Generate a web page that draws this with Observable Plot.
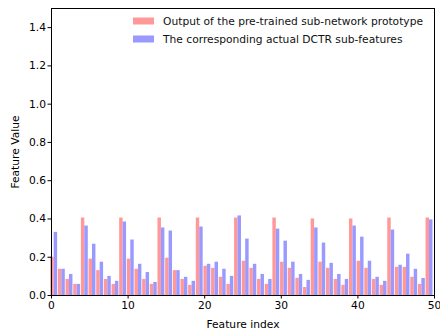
<!DOCTYPE html>
<html><head><meta charset="utf-8">
<script src="https://cdn.jsdelivr.net/npm/d3@7"></script>
<script src="https://cdn.jsdelivr.net/npm/@observablehq/plot@0.6"></script>
<style>
body{margin:0;background:#fff}
#chart{position:relative;width:440px;height:329px}
</style>
</head><body><div id="chart"></div>
<script>
const seriesNames = ["Output of the pre-trained sub-network prototype", "The corresponding actual DCTR sub-features"];
const seriesColors = ["#ff9999", "#9999ff"];
const prototypeValues = [
  0.200,0.137,0.084,0.058,0.405,0.190,0.130,0.084,0.058,0.405,
  0.190,0.137,0.084,0.058,0.405,0.195,0.130,0.084,0.053,0.405,
  0.153,0.142,0.095,0.058,0.405,0.179,0.142,0.084,0.058,0.405,
  0.174,0.142,0.090,0.042,0.400,0.174,0.142,0.084,0.053,0.400,
  0.179,0.142,0.084,0.053,0.405,0.147,0.147,0.095,0.058,0.405
];
const actualValues = [
  0.330,0.137,0.110,0.058,0.363,0.268,0.174,0.100,0.074,0.384,
  0.290,0.163,0.120,0.068,0.353,0.337,0.130,0.095,0.074,0.358,
  0.163,0.174,0.137,0.100,0.416,0.295,0.163,0.110,0.084,0.347,
  0.284,0.174,0.110,0.079,0.353,0.274,0.168,0.110,0.084,0.363,
  0.305,0.179,0.095,0.074,0.342,0.158,0.216,0.137,0.089,0.395
];
const xTicks = [0, 10, 20, 30, 40, 50];
const yTicks = [0.0, 0.2, 0.4, 0.6, 0.8, 1.0, 1.2, 1.4];

const rows = prototypeValues.map((v, i) => ({i, proto: v, actual: actualValues[i]}));
const barW = 0.45;
const fs = 10.7;

const plot = Plot.plot({
  width: 440, height: 329,
  marginLeft: 51, marginRight: 6, marginTop: 8, marginBottom: 34,
  style: {fontFamily: "DejaVu Sans", fontSize: fs + "px", color: "black", background: "white", overflow: "visible"},
  x: {domain: [0, 50]},
  y: {domain: [0, 1.5]},
  marks: [
    Plot.rectY(rows, {x1: d => d.i - 0.1, x2: d => d.i - 0.1 + barW, y: "proto", fill: seriesColors[0]}),
    Plot.rectY(rows, {x1: d => d.i - 0.1 + barW, x2: d => d.i - 0.1 + 2 * barW, y: "actual", fill: seriesColors[1]}),
    Plot.frame({stroke: "black", strokeWidth: 1}),
    Plot.axisX({ticks: xTicks, tickSize: 3.5, tickPadding: 2, fontSize: fs, label: "Feature index", labelAnchor: "center", labelArrow: "none", labelOffset: 32}),
    Plot.axisY({ticks: yTicks, tickFormat: d3.format(".1f"), tickSize: 3.5, tickPadding: 2, fontSize: fs, label: "Feature Value", labelAnchor: "center", labelArrow: "none", labelOffset: 40})
  ]
});
document.getElementById("chart").appendChild(plot);

// legend inside top right
const svg = d3.select(plot);
const lg = svg.append("g").attr("font-family", "DejaVu Sans").attr("font-size", fs).attr("text-anchor", "start");
seriesNames.forEach((name, k) => {
  const y = 21 + k * 18;
  lg.append("rect").attr("x", 133).attr("y", y - 3.5).attr("width", 21).attr("height", 7).attr("fill", seriesColors[k]);
  lg.append("text").attr("x", 163).attr("y", y).attr("dy", "0.35em").attr("text-anchor", "start").attr("fill", "#111").text(name);
});
</script>
</body></html>
